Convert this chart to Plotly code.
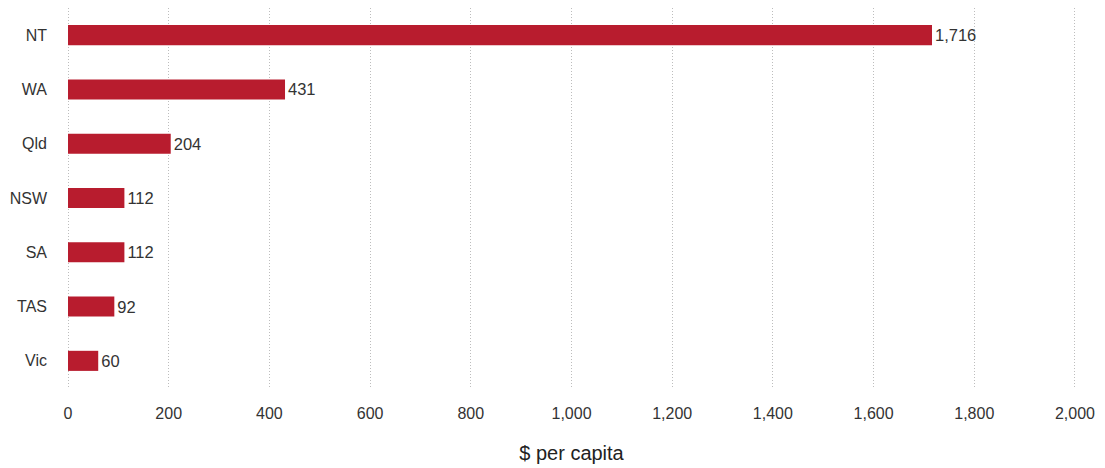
import plotly.graph_objects as go

categories = ["NT", "WA", "Qld", "NSW", "SA", "TAS", "Vic"]
values = [1716, 431, 204, 112, 112, 92, 60]
tick_vals = [0, 200, 400, 600, 800, 1000, 1200, 1400, 1600, 1800, 2000]
tick_text = ["0", "200", "400", "600", "800", "1,000", "1,200", "1,400", "1,600", "1,800", "2,000"]
labels = [f"{v:,}" for v in values]

FONT = "Liberation Sans, Arial, Helvetica, sans-serif"

fig = go.Figure(go.Bar(
    x=values, y=categories, orientation="h",
    marker=dict(color="#B81C2E", line=dict(width=0)),
    width=0.37,
    text=labels, textposition="outside", cliponaxis=False,
    textfont=dict(size=16.5, color="#333333", family=FONT),
))

fig.update_layout(
    width=1105, height=468,
    margin=dict(l=66, r=28, t=8, b=80),
    paper_bgcolor="white", plot_bgcolor="white",
    font=dict(family=FONT, color="#333333", size=16),
    showlegend=False,
)
fig.update_xaxes(
    range=[-4, 2004], tickvals=tick_vals, ticktext=tick_text,
    showgrid=True, gridcolor="#bdbdbd", griddash="1px,2px", gridwidth=1,
    zeroline=False, showline=False, ticks="", ticklabelstandoff=14,
    tickfont=dict(size=16, color="#333333"),
    title=dict(text="$ per capita", font=dict(size=20, color="#222222"), standoff=24),
)
fig.update_yaxes(
    categoryorder="array", categoryarray=categories[::-1],
    showgrid=False, zeroline=False, showline=False, ticks="",
    ticklabelstandoff=18, tickfont=dict(size=16, color="#333333"),
)

fig.write_html("out.html")
